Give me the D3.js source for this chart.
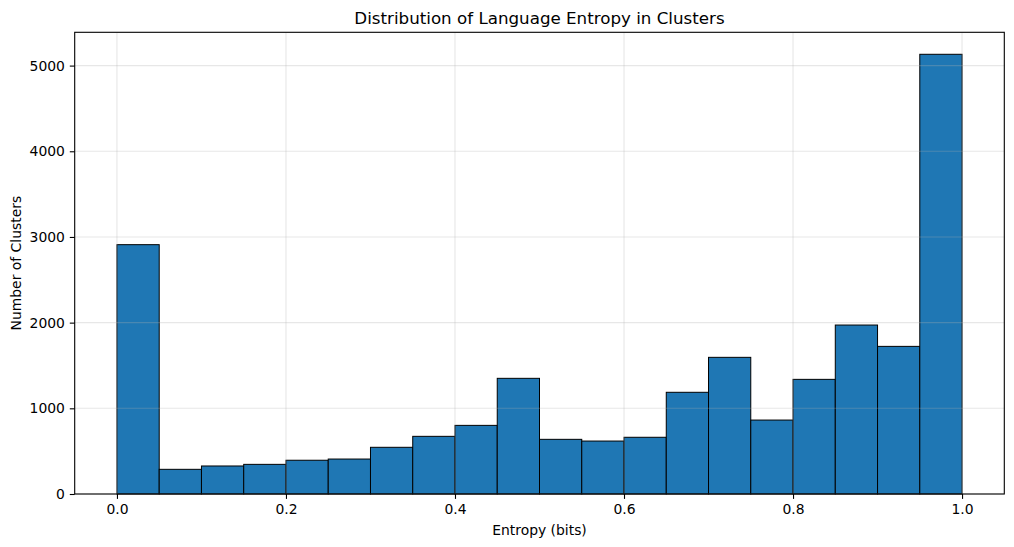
<!DOCTYPE html>
<html>
<head>
<meta charset="utf-8">
<script src="https://cdn.jsdelivr.net/npm/d3@7"></script>
<style>
  body { margin: 0; background: #fff; }
  text { font-family: "DejaVu Sans", sans-serif; fill: #000; }
</style>
</head>
<body>
<div id="container"></div>
<script>
// DATA
const binStarts = [0.00, 0.05, 0.10, 0.15, 0.20, 0.25, 0.30, 0.35, 0.40, 0.45,
                   0.50, 0.55, 0.60, 0.65, 0.70, 0.75, 0.80, 0.85, 0.90, 0.95];
const binEnds   = [0.05, 0.10, 0.15, 0.20, 0.25, 0.30, 0.35, 0.40, 0.45, 0.50,
                   0.55, 0.60, 0.65, 0.70, 0.75, 0.80, 0.85, 0.90, 0.95, 1.00];
const counts    = [2910, 288, 327, 346, 394, 408, 545, 673, 801, 1350,
                   638, 618, 662, 1187, 1595, 863, 1338, 1972, 1723, 5132];
const xTicks = [0.0, 0.2, 0.4, 0.6, 0.8, 1.0];
const yTicks = [0, 1000, 2000, 3000, 4000, 5000];

const width = 1014;
const height = 547;
const margin = {top: 32.3, right: 9.7, bottom: 53, left: 74.7};
const innerW = width - margin.left - margin.right;
const innerH = height - margin.top - margin.bottom;

const svg = d3.select("div#container").append("svg")
    .attr("width", width)
    .attr("height", height);

const g = svg.append("g")
    .attr("transform", "translate(" + margin.left + "," + margin.top + ")");

// SCALES
const xScale = d3.scaleLinear().domain([-0.05, 1.05]).range([0, innerW]);
const yMax = d3.max(counts) * 1.05;
const yScale = d3.scaleLinear().domain([0, yMax]).range([innerH, 0]);

const bins = counts.map(function (c, i) {
    return {x0: binStarts[i], x1: binEnds[i], count: c};
});

// BARS
g.selectAll("rect.bar")
    .data(bins)
    .enter()
    .append("rect")
    .attr("class", "bar")
    .attr("x", function (d) { return xScale(d.x0); })
    .attr("y", function (d) { return yScale(d.count); })
    .attr("width", function (d) { return xScale(d.x1) - xScale(d.x0); })
    .attr("height", function (d) { return innerH - yScale(d.count); })
    .attr("fill", "#1f77b4")
    .attr("stroke", "#000")
    .attr("stroke-width", 1);

// GRID (drawn over bars, like the source)
const grid = g.append("g").attr("class", "grid");
grid.selectAll("line.gx")
    .data(xTicks)
    .enter()
    .append("line")
    .attr("x1", function (d) { return xScale(d); })
    .attr("x2", function (d) { return xScale(d); })
    .attr("y1", 0)
    .attr("y2", innerH)
    .attr("stroke", "#b0b0b0")
    .attr("stroke-opacity", 0.3)
    .attr("stroke-width", 1.1);
grid.selectAll("line.gy")
    .data(yTicks)
    .enter()
    .append("line")
    .attr("x1", 0)
    .attr("x2", innerW)
    .attr("y1", function (d) { return yScale(d); })
    .attr("y2", function (d) { return yScale(d); })
    .attr("stroke", "#b0b0b0")
    .attr("stroke-opacity", 0.3)
    .attr("stroke-width", 1.1);

// AXES
const xaxis = d3.axisBottom(xScale)
    .tickValues(xTicks)
    .tickFormat(d3.format(".1f"))
    .tickSize(4.9)
    .tickPadding(4.9)
    .tickSizeOuter(0);
const yaxis = d3.axisLeft(yScale)
    .tickValues(yTicks)
    .tickFormat(d3.format("d"))
    .tickSize(4.9)
    .tickPadding(4.9)
    .tickSizeOuter(0);

const gx = g.append("g")
    .attr("transform", "translate(0," + innerH + ")")
    .call(xaxis);
const gy = g.append("g").call(yaxis);

[gx, gy].forEach(function (a) {
    a.select(".domain").remove();
    a.selectAll(".tick line").attr("stroke", "#000").attr("stroke-width", 1.1);
    a.selectAll(".tick text")
        .style("font-family", "DejaVu Sans")
        .style("font-size", "13.9px")
        .attr("fill", "#000");
});

// FRAME
g.append("rect")
    .attr("x", 0)
    .attr("y", 0)
    .attr("width", innerW)
    .attr("height", innerH)
    .attr("fill", "none")
    .attr("stroke", "#000")
    .attr("stroke-width", 1.1);

// LABELS
svg.append("text")
    .attr("x", margin.left + innerW / 2)
    .attr("y", 24)
    .attr("text-anchor", "middle")
    .style("font-size", "16.7px")
    .text("Distribution of Language Entropy in Clusters");

svg.append("text")
    .attr("x", margin.left + innerW / 2)
    .attr("y", 535)
    .attr("text-anchor", "middle")
    .style("font-size", "13.9px")
    .text("Entropy (bits)");

svg.append("text")
    .attr("transform", "translate(21," + (margin.top + innerH / 2) + ") rotate(-90)")
    .attr("text-anchor", "middle")
    .style("font-size", "13.9px")
    .text("Number of Clusters");
</script>
</body>
</html>
